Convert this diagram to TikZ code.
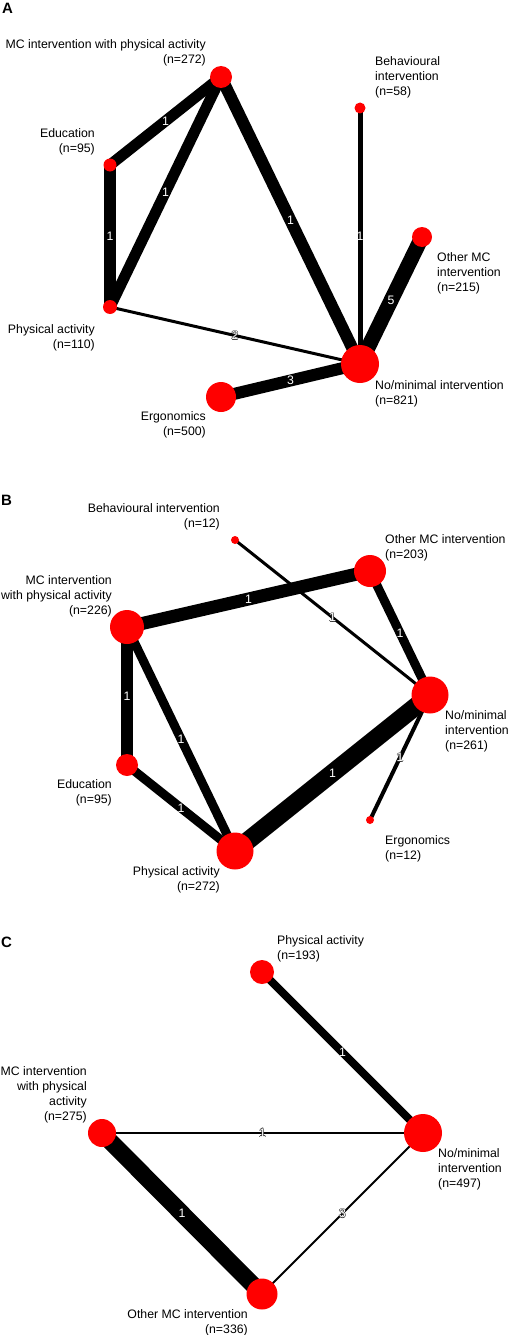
\documentclass[tikz,border=0pt]{standalone}
\usepackage{fontspec}
\setmainfont{Liberation Sans}
\usetikzlibrary{positioning}
\pgfdeclarelayer{back}
\pgfsetlayers{back,main}
% outlined digit for the thin links
\newcommand{\halo}[1]{\rlap{\kern-.6pt\color{black!80}#1}\rlap{\kern.6pt\color{black!80}#1}\rlap{\raisebox{.6pt}{\color{black!80}#1}}\rlap{\raisebox{-.6pt}{\color{black!80}#1}}#1}

\begin{document}
\begin{tikzpicture}[x=1pt, y=-1pt,
    dot/.style={circle, fill=red, inner sep=0pt, minimum size=#1},
    lbl/.style={inner sep=0pt, font=\fontsize{12.3}{15}\selectfont},
    lblr/.style={lbl, align=right, anchor=north east},
    lbll/.style={lbl, align=left, anchor=north west},
    link/.style={line width=#1},
    num/.style={midway, inner sep=0pt, text=white, font=\fontsize{12.3}{15}\selectfont},
    panel/.style={anchor=base west, inner sep=0pt, font=\fontsize{15}{15}\selectfont\bfseries}
]
\useasboundingbox (0,0) rectangle (507,1335);

% panel A
\node[panel] (pA) at (2,14) {A};
\node[dot=22pt] (aMCPA) at (221,77)  {};
\node[dot=11pt] (aBeh)  at (360,108) {};
\node[dot=13pt] (aEdu)  at (110,165) {};
\node[dot=14pt] (aPA)   at (110,307) {};
\node[dot=20pt] (aOth)  at (422,237) {};
\node[dot=38pt] (aNo)   at (360,364) {};
\node[dot=30pt] (aErg)  at (221,397) {};

\node[lblr] (aMCPAl) at (206,39)  {MC intervention with physical activity\\(n=272)};
\node[lbll] (aBehl)  at (375,56)  {Behavioural\\intervention\\(n=58)};
\node[lblr] (aEdul)  at (95,128)  {Education\\(n=95)};
\node[lblr] (aPAl)   at (95,324)  {Physical activity\\(n=110)};
\node[lbll] (aOthl)  at (437,252) {Other MC\\intervention\\(n=215)};
\node[lbll] (aNol)   at (375,380) {No/minimal intervention\\(n=821)};
\node[lblr] (aErgl)  at (206,411) {Ergonomics\\(n=500)};

\begin{pgfonlayer}{back}
\draw[link=11pt] (aMCPA.center) -- (aEdu.center) node[num] {1};
\draw[link=11pt] (aMCPA.center) -- (aPA.center)  node[num] {1};
\draw[link=12pt] (aEdu.center)  -- (aPA.center)  node[num] {1};
\draw[link=12pt] (aMCPA.center) -- (aNo.center)  node[num] {1};
\draw[link=5pt]  (aBeh.center)  -- (aNo.center)  node[num] {1};
\draw[link=15pt] (aOth.center)  -- (aNo.center)  node[num] {5};
\draw[link=3pt]  (aPA.center)   -- (aNo.center)  node[num] {\halo{2}};
\draw[link=12pt] (aErg.center)  -- (aNo.center)  node[num] {3};
\end{pgfonlayer}

% panel B
\node[panel] (pB) at (1,505) {B};
\node[dot=8pt]  (bBeh)  at (235,540) {};
\node[dot=32pt] (bOth)  at (370,571) {};
\node[dot=34pt] (bMCPA) at (127,627) {};
\node[dot=37pt] (bNo)   at (430,695) {};
\node[dot=22pt] (bEdu)  at (127,765) {};
\node[dot=37pt] (bPA)   at (235,851) {};
\node[dot=8pt]  (bErg)  at (370,820) {};

\node[lblr] (bBehl)  at (220,503) {Behavioural intervention\\(n=12)};
\node[lbll] (bOthl)  at (385,534) {Other MC intervention\\(n=203)};
\node[lblr] (bMCPAl) at (112,575) {MC intervention\\with physical activity\\(n=226)};
\node[lbll] (bNol)   at (445,710) {No/minimal\\intervention\\(n=261)};
\node[lblr] (bEdul)  at (112,779) {Education\\(n=95)};
\node[lblr] (bPAl)   at (220,866) {Physical activity\\(n=272)};
\node[lbll] (bErgl)  at (385,835) {Ergonomics\\(n=12)};

\begin{pgfonlayer}{back}
\draw[link=13pt] (bMCPA.center) -- (bOth.center) node[num] {1};
\draw[link=3pt]  (bBeh.center)  -- (bNo.center)  node[num] {\halo{1}};
\draw[link=9pt]  (bOth.center)  -- (bNo.center)  node[num] {1};
\draw[link=12pt] (bMCPA.center) -- (bEdu.center) node[num] {1};
\draw[link=9pt]  (bMCPA.center) -- (bPA.center)  node[num] {1};
\draw[link=9pt]  (bEdu.center)  -- (bPA.center)  node[num] {1};
\draw[link=18pt] (bPA.center)   -- (bNo.center)  node[num] {1};
\draw[link=4pt]  (bNo.center)   -- (bErg.center) node[num] {\halo{1}};
\end{pgfonlayer}

% panel C
\node[panel] (pC) at (1,947) {C};
\node[dot=24pt] (cPA)   at (262,972)  {};
\node[dot=28pt] (cMCPA) at (102,1133) {};
\node[dot=38pt] (cNo)   at (423,1133) {};
\node[dot=31pt] (cOth)  at (262,1294) {};

\node[lbll] (cPAl)   at (277,935)  {Physical activity\\(n=193)};
\node[lblr] (cMCPAl) at (87,1066)  {MC intervention\\with physical\\activity\\(n=275)};
\node[lbll] (cNol)   at (438,1148) {No/minimal\\intervention\\(n=497)};
\node[lblr] (cOthl)  at (248,1309) {Other MC intervention\\(n=336)};

\begin{pgfonlayer}{back}
\draw[link=8pt]  (cPA.center)   -- (cNo.center)  node[num] {1};
\draw[link=2pt]  (cMCPA.center) -- (cNo.center)  node[num] {\halo{1}};
\draw[link=17pt] (cMCPA.center) -- (cOth.center) node[num] {1};
\draw[link=2pt]  (cOth.center)  -- (cNo.center)  node[num] {\halo{3}};
\end{pgfonlayer}
\end{tikzpicture}
\end{document}
